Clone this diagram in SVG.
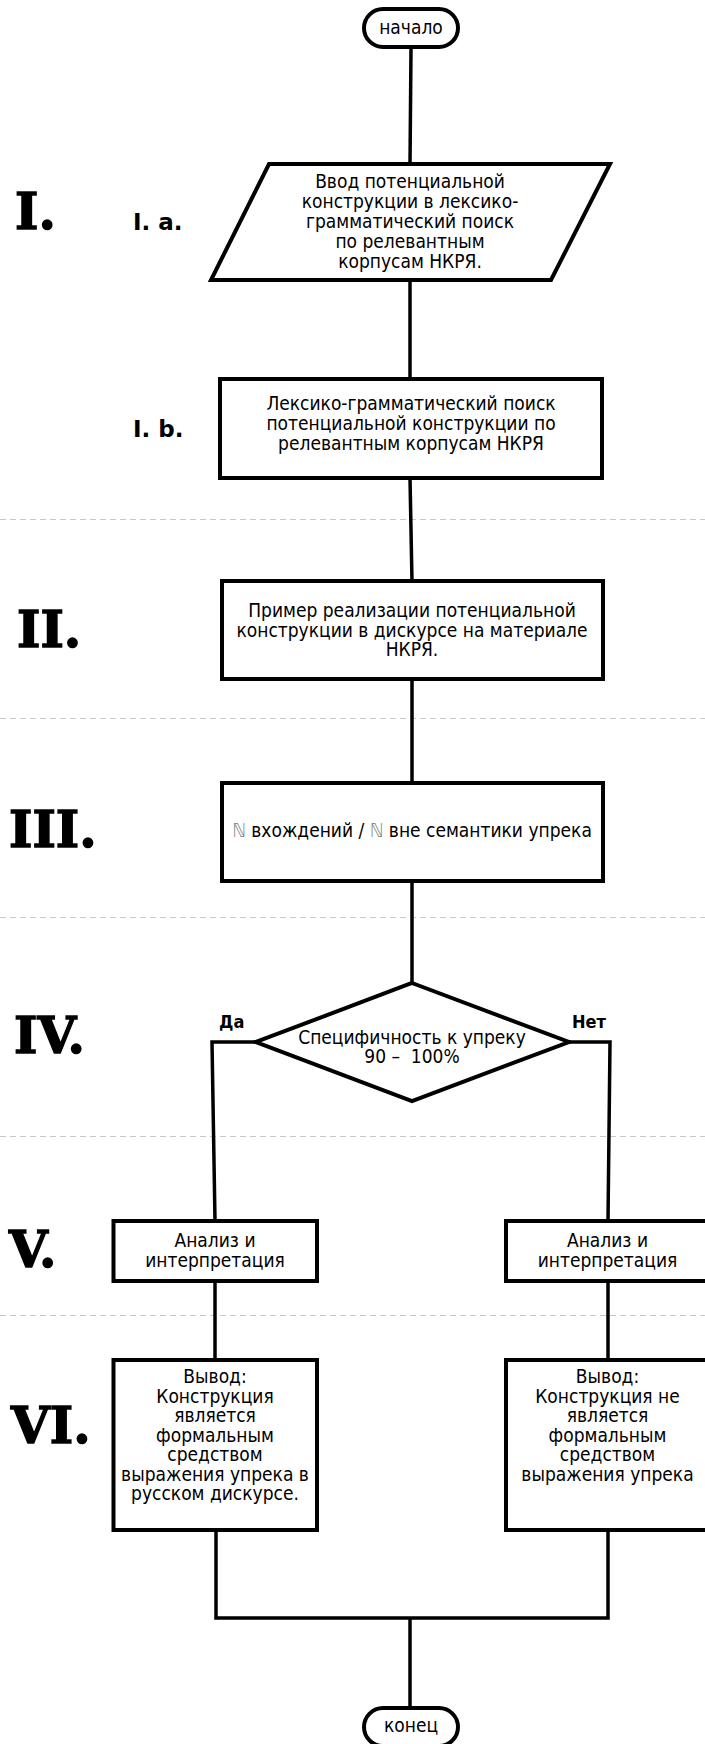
<svg xmlns="http://www.w3.org/2000/svg" width="705" height="1744" viewBox="0 0 705 1744">
<style>
.shape{fill:#fff;stroke:#000;stroke-width:4;stroke-linejoin:miter}
.conn{fill:none;stroke:#000;stroke-width:3.5}
.sep{stroke:#c8c8c8;stroke-width:1;stroke-dasharray:6 4}
.t{font-family:"DejaVu Sans Condensed","DejaVu Sans",sans-serif;font-stretch:condensed;font-size:19px;fill:#000;text-anchor:middle}
.num{font-family:"DejaVu Serif",serif;font-weight:bold;font-size:50px;fill:#000;stroke:#000;stroke-width:1.5}
.sub{font-family:"DejaVu Sans",sans-serif;font-weight:bold;font-size:23px;fill:#000}
.yn{font-family:"DejaVu Sans Condensed","DejaVu Sans",sans-serif;font-stretch:condensed;font-weight:bold;font-size:18px;fill:#000}
.dbl{fill:#888}
</style>
<rect x="0" y="0" width="705" height="1744" fill="#fff"/>
<g id="separators">
<line class="sep" x1="0" y1="519.5" x2="705" y2="519.5"/>
<line class="sep" x1="0" y1="718.5" x2="705" y2="718.5"/>
<line class="sep" x1="0" y1="917.5" x2="705" y2="917.5"/>
<line class="sep" x1="0" y1="1136.5" x2="705" y2="1136.5"/>
<line class="sep" x1="0" y1="1315.5" x2="705" y2="1315.5"/>
</g>
<g id="stage-labels">
<text class="num" x="15" y="229">I.</text>
<text class="sub" x="133" y="230">I. a.</text>
<text class="sub" x="133" y="437">I. b.</text>
<text class="num" x="17" y="647">II.</text>
<text class="num" x="9" y="847">III.</text>
<text class="num" x="14" y="1053">IV.</text>
<text class="num" x="9" y="1267">V.</text>
<text class="num" x="11" y="1443">VI.</text>
</g>
<g id="connectors">
<line class="conn" x1="411" y1="49" x2="410" y2="164"/>
<line class="conn" x1="410" y1="280" x2="410" y2="379"/>
<line class="conn" x1="410" y1="478" x2="412" y2="581"/>
<line class="conn" x1="412" y1="679" x2="412" y2="783"/>
<line class="conn" x1="412" y1="881" x2="412" y2="983"/>
<polyline class="conn" points="256,1042 212,1042 215,1221"/>
<polyline class="conn" points="569,1042 610,1042 608,1221"/>
<line class="conn" x1="215" y1="1281" x2="215" y2="1360"/>
<line class="conn" x1="608" y1="1281" x2="608" y2="1360"/>
<polyline class="conn" points="216,1530 216,1618 608,1618 608,1530"/>
<line class="conn" x1="410" y1="1618" x2="410" y2="1708"/>
</g>
<g id="start">
<rect class="shape" x="364" y="9" width="94" height="38" rx="19" ry="19"/>
<text class="t" x="411" y="34">начало</text>
</g>
<g id="input">
<polygon class="shape" points="269,164 610,164 551,280 211,280"/>
<text class="t" x="410" y="188">Ввод потенциальной</text>
<text class="t" x="410" y="208">конструкции в лексико-</text>
<text class="t" x="410" y="228">грамматический поиск</text>
<text class="t" x="410" y="248">по релевантным</text>
<text class="t" x="410" y="268">корпусам НКРЯ.</text>
</g>
<g id="search">
<rect class="shape" x="220" y="379" width="382" height="99"/>
<text class="t" x="411" y="410">Лексико-грамматический поиск</text>
<text class="t" x="411" y="430">потенциальной конструкции по</text>
<text class="t" x="411" y="450">релевантным корпусам НКРЯ</text>
</g>
<g id="example">
<rect class="shape" x="222" y="581" width="381" height="98"/>
<text class="t" x="412" y="617">Пример реализации потенциальной</text>
<text class="t" x="412" y="636.5">конструкции в дискурсе на материале</text>
<text class="t" x="412" y="656">НКРЯ.</text>
</g>
<g id="count">
<rect class="shape" x="222" y="783" width="381" height="98"/>
<text class="t" x="412" y="837"><tspan class="dbl">ℕ</tspan> вхождений / <tspan class="dbl">ℕ</tspan> вне семантики упрека</text>
</g>
<g id="decision">
<polygon class="shape" points="412,983 569,1042 412,1101 256,1042"/>
<text class="t" x="412" y="1044">Специфичность к упреку</text>
<text class="t" x="412" y="1063" xml:space="preserve">90 –  100%</text>
<text class="yn" x="219" y="1028">Да</text>
<text class="yn" x="572" y="1028">Нет</text>
</g>
<g id="analysis-yes">
<rect class="shape" x="113.5" y="1221" width="203.5" height="60"/>
<text class="t" x="215" y="1247">Анализ и</text>
<text class="t" x="215" y="1267">интерпретация</text>
</g>
<g id="analysis-no">
<rect class="shape" x="506" y="1221" width="203.5" height="60"/>
<text class="t" x="607.5" y="1247">Анализ и</text>
<text class="t" x="607.5" y="1267">интерпретация</text>
</g>
<g id="conclusion-yes">
<rect class="shape" x="113.5" y="1360" width="203.5" height="170"/>
<text class="t" x="215" y="1383">Вывод:</text>
<text class="t" x="215" y="1402.5">Конструкция</text>
<text class="t" x="215" y="1422">является</text>
<text class="t" x="215" y="1441.5">формальным</text>
<text class="t" x="215" y="1461">средством</text>
<text class="t" x="215" y="1480.5">выражения упрека в</text>
<text class="t" x="215" y="1500">русском дискурсе.</text>
</g>
<g id="conclusion-no">
<rect class="shape" x="506" y="1360" width="203.5" height="170"/>
<text class="t" x="607.5" y="1383">Вывод:</text>
<text class="t" x="607.5" y="1402.5">Конструкция не</text>
<text class="t" x="607.5" y="1422">является</text>
<text class="t" x="607.5" y="1441.5">формальным</text>
<text class="t" x="607.5" y="1461">средством</text>
<text class="t" x="607.5" y="1480.5">выражения упрека</text>
</g>
<g id="end">
<rect class="shape" x="364" y="1708" width="94" height="38" rx="19" ry="19"/>
<text class="t" x="411" y="1732">конец</text>
</g>
</svg>
